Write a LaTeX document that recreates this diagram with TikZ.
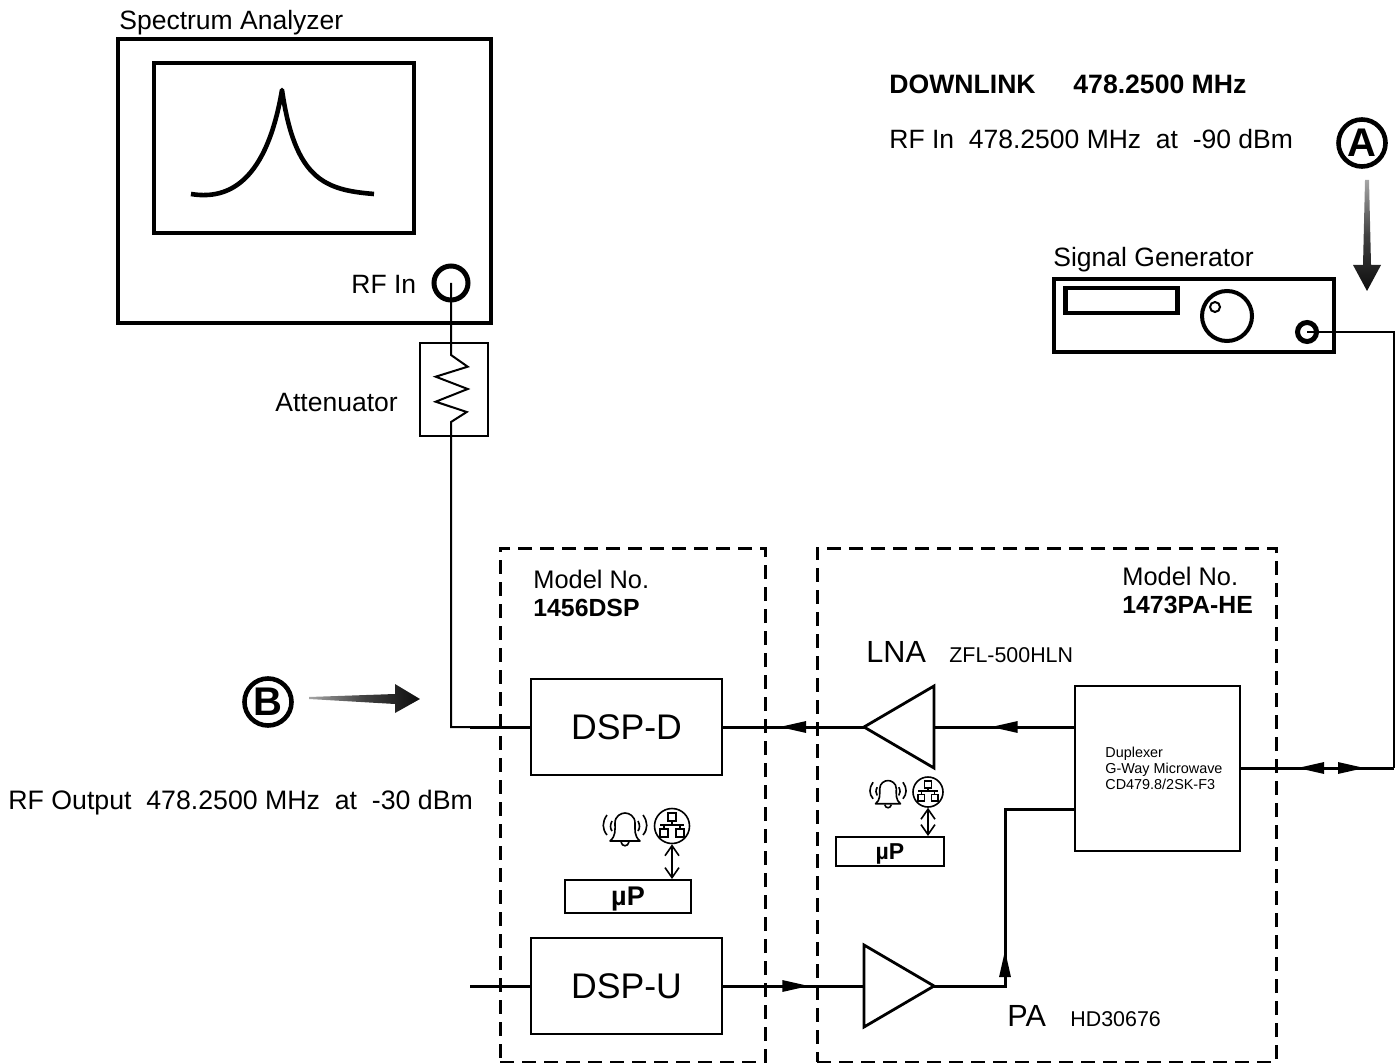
\documentclass[tikz,border=0pt]{standalone}
\usepackage{fontspec}
\setmainfont{Liberation Sans}
\usetikzlibrary{shapes.geometric, arrows.meta, decorations.markings}
\tikzset{
    lbl/.style={anchor=west, inner sep=0pt, font=\fontsize{13.25}{15}\selectfont},
    lblbold/.style={anchor=west, inner sep=0pt, font=\fontsize{13.3}{15}\selectfont\bfseries},
    lblmodel/.style={anchor=west, inner sep=0pt, font=\fontsize{12.7}{15}\selectfont},
    lblmodelno/.style={anchor=west, inner sep=0pt, font=\fontsize{12.4}{15}\selectfont\bfseries},
    lblbig/.style={anchor=west, inner sep=0pt, font=\fontsize{15.3}{18}\selectfont},
    lblsmall/.style={anchor=west, inner sep=0pt, font=\fontsize{10.7}{12}\selectfont},
    heavybox/.style={draw, rectangle, line width=2.4pt, inner sep=0pt},
    block/.style={draw, rectangle, line width=1.4pt, inner sep=0pt, font=\fontsize{17.8}{20}\selectfont},
    thinbox/.style={draw, rectangle, line width=1pt, inner sep=0pt, text depth=0pt, font=\fontsize{13.5}{15}\selectfont\bfseries},
    unitbox/.style={draw, rectangle, line width=1.5pt, dash pattern=on 7pt off 4pt, inner sep=0pt},
    ring/.style={draw, circle, inner sep=0pt},
    testpoint/.style={ring, line width=2.3pt, minimum size=23.5pt, font=\fontsize{20}{24}\selectfont\bfseries},
    amp/.style={draw, isosceles triangle, isosceles triangle stretches, line width=1.4pt, inner sep=0pt, outer sep=0pt,
        minimum width=41pt, minimum height=35pt},
    wire/.style={line width=1pt},
    rfline/.style={line width=1.5pt},
    busarrow/.style={{Straight Barb[length=5pt, width=7pt]}-{Straight Barb[length=5pt, width=7pt]}, line width=0.8pt},
    tipat/.style={postaction={decorate, decoration={markings, mark=at position #1 with {\arrow{Triangle[length=13.5pt, width=5.5pt]}}}}},
    tipback/.style={postaction={decorate, decoration={markings, mark=at position #1 with {\arrowreversed{Triangle[length=13.5pt, width=5.5pt]}}}}},
    pics/bellicon/.style={code={
        \draw[line width=0.8pt, line join=round] (-15,13) .. controls (-9,8) and (-10,2) .. (-10,-5) .. controls (-10,-12) and (-4,-15) .. (0,-15)
            .. controls (4,-15) and (10,-12) .. (10,-5) .. controls (10,2) and (9,8) .. (15,13) -- cycle;
        \draw[line width=0.8pt] (-4,14) .. controls (-3,19) and (3,19) .. (4,14);
        \draw[line width=0.8pt] (-18,-13) .. controls (-23,-6) and (-23,1) .. (-18,7);
        \draw[line width=0.8pt] (18,-13) .. controls (23,-6) and (23,1) .. (18,7);
        \draw[line width=0.8pt] (-13,-7) .. controls (-15,-3) and (-15,0) .. (-13,3);
        \draw[line width=0.8pt] (13,-7) .. controls (15,-3) and (15,0) .. (13,3);
    }},
    pics/neticon/.style={code={
        \draw[line width=0.8pt] (-4,-13) rectangle (4,-5);
        \draw[line width=0.8pt] (-12,3) rectangle (-4,11);
        \draw[line width=0.8pt] (4,3) rectangle (12,11);
        \draw[line width=0.8pt] (0,-5) -- (0,-1);
        \draw[line width=0.8pt] (-12,-1) -- (12,-1);
        \draw[line width=0.8pt] (-8,-1) -- (-8,3);
        \draw[line width=0.8pt] (8,-1) -- (8,3);
    }}
}

\begin{document}
\begin{tikzpicture}[x=0.5pt, y=-0.5pt]
    \useasboundingbox (0,0) rectangle (1395,1063);
    % Spectrum analyzer
    \node[lbl] (specname) at (119,23) {Spectrum Analyzer};
    \node[heavybox, minimum width=186.5pt, minimum height=142pt] (spec) at (304.5,181) {};
    \node[heavybox, line width=2pt, minimum width=130pt, minimum height=85pt] (screen) at (284,148) {};
    \draw[line width=2.3pt, line join=round] (191,194) .. controls (222,199) and (265,190) .. (282,90)
        .. controls (295,180) and (325,190) .. (374,194);
    \node[lbl] (rfinname) at (351,284) {RF In};
    \node[ring, line width=2.5pt, minimum size=17pt] (rfin) at (451,283) {};
    % Attenuator
    \node[thinbox, minimum width=34pt, minimum height=46.5pt] (atten) at (454,389.5) {};
    \node[lbl] (attenname) at (275,403) {Attenuator};
    \coordinate (dspin) at (470,727);
    \draw[wire] (rfin.center) -- (451,355) -- (467.7,366.7) -- (435.7,376.7) -- (467.7,389) -- (435.7,401.7)
        -- (466.7,412) -- (451,422) -- (451,727) -- (dspin);

    % Signal generator
    \node[lbl] (genname) at (1053,260) {Signal Generator};
    \node[heavybox, minimum width=140pt, minimum height=36.5pt] (gen) at (1194,315.5) {};
    \node[heavybox, minimum width=56pt, minimum height=12.5pt] (display) at (1121.5,300.5) {};
    \node[ring, line width=2pt, minimum size=25pt] (knob) at (1227,316) {};
    \node[ring, line width=1pt, minimum size=5pt] (knobdot) at (1215,307) {};
    \node[ring, line width=2.5pt, minimum size=9.5pt] (port) at (1307,332) {};

    % Downlink text
    \node[lblbold] (linkname) at (889,84) {DOWNLINK};
    \node[lblbold] (linkfreq) at (1073,84) {478.2500 MHz};
    \node[lbl] (rfintext) at (889,139) {RF In~~478.2500 MHz~~at~~-90 dBm};
    \node[lbl, font=\fontsize{13.35}{15}\selectfont] (rfouttext) at (8,803) {RF Output~~478.2500 MHz~~at~~-30 dBm};

    % Test points
    \node[testpoint] (ptA) at (1362,143) {A};
    \node[testpoint] (ptB) at (268,702) {B};
    \shade[top color=black!35, bottom color=black!95, middle color=black!75] (1365,180) -- (1369,180) -- (1371,265) -- (1381,265)
        -- (1367,291) -- (1353,265) -- (1363,265) -- cycle;
    \shade[left color=black!35, right color=black!95, middle color=black!75] (309,697) -- (395,694) -- (395,684) -- (420,699)
        -- (395,713) -- (395,704) -- (309,699) -- cycle;

    % Model boxes
    \node[unitbox, minimum width=132.5pt, minimum height=257pt] (dspunit) at (632.5,805) {};
    \node[unitbox, minimum width=229.5pt, minimum height=257pt] (paunit) at (1046.5,805) {};
    \node[lblmodel] (dspmodel) at (533,579) {Model No.};
    \node[lblmodelno] (dspno) at (533,608) {1456DSP};
    \node[lblmodel] (pamodel) at (1122,576) {Model No.};
    \node[lblmodelno] (pano) at (1122,605) {1473PA-HE};

    % Blocks
    \node[block, minimum width=95.5pt, minimum height=48pt] (dspd) at (626.5,727) {DSP-D};
    \node[block, minimum width=95.5pt, minimum height=48pt] (dspu) at (626.5,986) {DSP-U};
    \node[block, minimum width=82.5pt, minimum height=82.5pt] (dup) at (1157.5,768.5) {};
    \node[anchor=west, inner sep=0pt, align=left, font=\fontsize{7.2}{8}\selectfont] (dupname) at (1105,768) {Duplexer\\G-Way Microwave\\CD479.8/2SK-F3};
    \node[amp, shape border rotate=180, anchor=apex] (lna) at (864,727) {};
    \node[amp, anchor=apex] (pa) at (934,986) {};
    \node[lblbig] (lnaname) at (866,652) {LNA};
    \node[lblsmall] (lnapart) at (949,655) {ZFL-500HLN};
    \node[lblbig] (paname) at (1007,1016) {PA};
    \node[lblsmall] (papart) at (1070,1019) {HD30676};

    % Microprocessors and their icons
    \node[thinbox, minimum width=63pt, minimum height=16.5pt] (updsp) at (628,896.5) {µP};
    \node[thinbox, font=\fontsize{11.5}{15}\selectfont\bfseries, minimum width=54pt, minimum height=14.5pt] (uppa) at (890,851.5) {µP};
    \node[ring, line width=0.8pt, minimum size=17.5pt] (netdsp) at (672,826) {};
    \node[ring, line width=0.8pt, minimum size=15pt] (netpa) at (928,792) {};
    \pic at (625,828) {bellicon};
    \pic at (672,826) {neticon};
    \pic[scale=0.83] at (888,793) {bellicon};
    \pic[scale=0.83] at (928,792) {neticon};
    \draw[busarrow] (netdsp.south) -- (netdsp.south |- updsp.north);
    \draw[busarrow] (netpa.south) -- (netpa.south |- uppa.north);

    % RF path
    \coordinate (upin) at (470,986);
    \coordinate (corner) at (1394,768);
    \draw[rfline] (dspin) -- (dspd.west);
    \draw[rfline] (upin) -- (dspu.west);
    \draw[rfline, tipat=41.5pt] (dup.west |- lna.east) -- (lna.east);
    \draw[rfline, tipat=42.5pt] (lna.apex) -- (dspd.east);
    \draw[rfline, tipat=43pt] (dspu.east) -- (pa.west);
    \draw[rfline, tipat=53.5pt] (pa.apex) -- (1005,986) -- (1005,809) -- (dup.west |- 1005,809);
    \draw[wire] (port.center) -- (1394,332) -- (corner);
    \draw[rfline, tipat=48.5pt, tipback=14.5pt] (corner) -- (dup.east |- corner);
\end{tikzpicture}
\end{document}
